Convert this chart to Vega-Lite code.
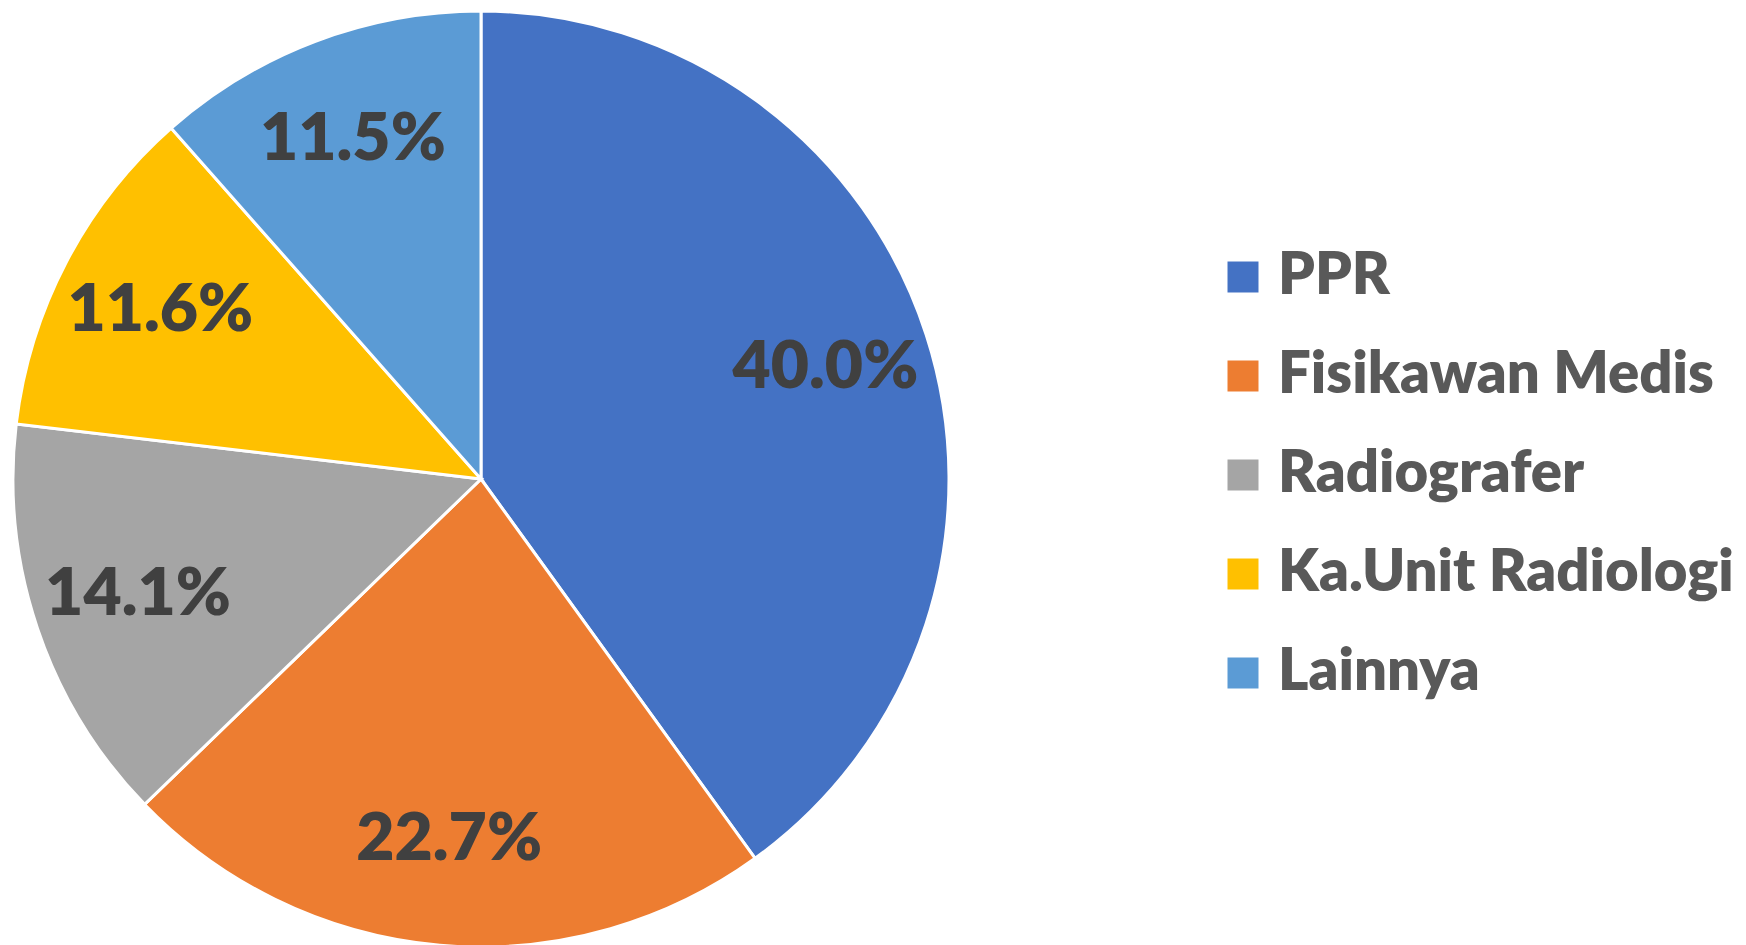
{
  "$schema": "https://vega.github.io/schema/vega-lite/v6.json",
  "width": 936,
  "height": 936,
  "autosize": {"type": "none"},
  "padding": {"left": 13, "top": 11, "right": 797, "bottom": 0},
  "background": "white",
  "config": {"view": {"stroke": null}},
  "data": {
    "values": [
      {"category": "PPR", "value": 0.400, "order": 1},
      {"category": "Fisikawan Medis", "value": 0.227, "order": 2},
      {"category": "Radiografer", "value": 0.141, "order": 3},
      {"category": "Ka.Unit Radiologi", "value": 0.116, "order": 4},
      {"category": "Lainnya", "value": 0.115, "order": 5}
    ]
  },
  "encoding": {
    "theta": {"field": "value", "type": "quantitative", "stack": true},
    "order": {"field": "order", "type": "quantitative"}
  },
  "layer": [
    {
      "mark": {"type": "arc", "outerRadius": 468, "stroke": "white", "strokeWidth": 3},
      "encoding": {
        "color": {
          "field": "category",
          "type": "nominal",
          "sort": ["PPR", "Fisikawan Medis", "Radiografer", "Ka.Unit Radiologi", "Lainnya"],
          "scale": {
            "domain": ["PPR", "Fisikawan Medis", "Radiografer", "Ka.Unit Radiologi", "Lainnya"],
            "range": ["#4472C4", "#ED7D31", "#A5A5A5", "#FFC000", "#5B9BD5"]
          },
          "legend": {
            "title": null,
            "orient": "none",
            "legendX": 1201,
            "legendY": 237,
            "symbolType": "square",
            "symbolSize": 961,
            "symbolStrokeWidth": 0,
            "labelFont": "Lato",
            "labelFontWeight": 800,
            "labelFontSize": 58,
            "labelColor": "#595959",
            "labelOffset": 6,
            "rowPadding": 41,
            "labelLimit": 600
          }
        }
      }
    },
    {
      "mark": {"type": "text", "radius": 362, "font": "Lato", "fontWeight": 800, "fontSize": 66, "color": "#404040", "align": "center", "baseline": "middle"},
      "encoding": {
        "text": {"field": "value", "type": "quantitative", "format": ".1%"}
      }
    }
  ]
}
